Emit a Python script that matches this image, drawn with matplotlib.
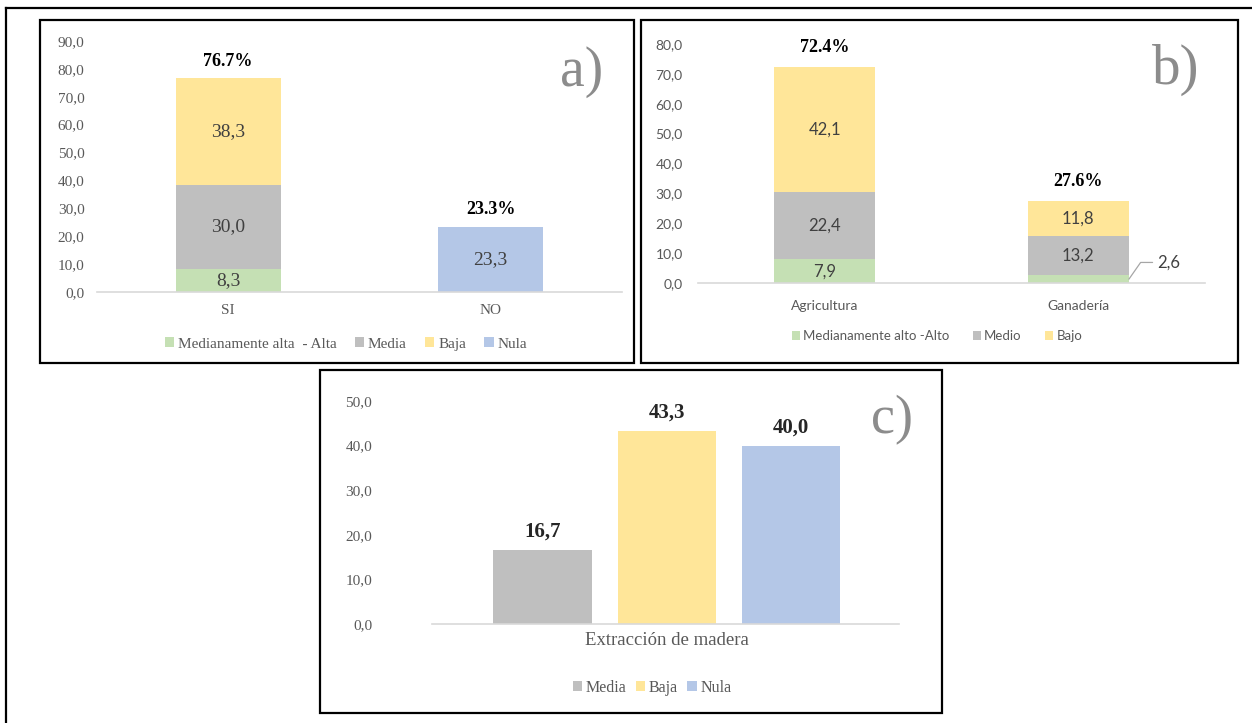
import matplotlib.pyplot as plt
import numpy as np
from matplotlib.patches import Rectangle
from matplotlib.lines import Line2D
from matplotlib.font_manager import FontProperties

# Panel a) data
a_cats = ['SI', 'NO']
a_alta = [8.3, 0.0]
a_media = [30.0, 0.0]
a_baja = [38.3, 0.0]
a_nula = [0.0, 23.3]
a_totals = ['76.7%', '23.3%']

# Panel b) data
b_cats = ['Agricultura', 'Ganadería']
b_alto = [7.9, 2.6]
b_medio = [22.4, 13.2]
b_bajo = [42.1, 11.8]
b_totals = ['72.4%', '27.6%']

# Panel c) data
c_cat = 'Extracción de madera'
c_series = ['Media', 'Baja', 'Nula']
c_values = [16.7, 43.3, 40.0]

GREEN = '#C5E0B4'
GRAY = '#BFBFBF'
YELLOW = '#FFE699'
BLUE = '#B4C7E7'
TXT = '#404040'
TICK = '#595959'

SERIF = 'Liberation Serif'
SANS = 'Lato'

W, H = 1252, 723
fig = plt.figure(figsize=(W / 100, H / 100), dpi=100)


def px_axes(x0, x1, y_top, y_bot):
    return fig.add_axes([x0 / W, 1 - y_bot / H, (x1 - x0) / W, (y_bot - y_top) / H])


def px_box(x0, x1, y0, y1, lw=1.6):
    fig.add_artist(Rectangle((x0 / W, 1 - y1 / H), (x1 - x0) / W, (y1 - y0) / H,
                             transform=fig.transFigure, fill=False, ec='black', lw=lw))


def style_axes(ax, font, size):
    for s in ['top', 'right', 'left']:
        ax.spines[s].set_visible(False)
    ax.spines['bottom'].set_color('#D9D9D9')
    ax.spines['bottom'].set_linewidth(1.2)
    ax.tick_params(axis='both', length=0, colors=TICK, labelfontfamily=font, labelsize=size)
    ax.set_facecolor('none')


def seg_label(ax, x, bottom, h, font, size):
    if h > 0:
        ax.text(x, bottom + h / 2, f'{h:.1f}'.replace('.', ','), ha='center', va='center',
                fontsize=size, family=font, color=TXT)


# outer frame (top and left only)
fig.add_artist(Line2D([6 / W, 1], [1 - 8 / H, 1 - 8 / H], transform=fig.transFigure, color='black', lw=1.6))
fig.add_artist(Line2D([6 / W, 6 / W], [1 - 8 / H, 0], transform=fig.transFigure, color='black', lw=1.6))

# panel boxes
px_box(40, 634, 20, 363)
px_box(641, 1238, 20, 363)
px_box(320, 942, 370, 713)

# ---------- a) ----------
ax = px_axes(97, 622, 41, 292)
xa = np.arange(len(a_cats))
bw = 0.4
bottom = np.zeros(len(a_cats))
handles = []
for vals, col, name in [(a_alta, GREEN, 'Medianamente alta  - Alta'), (a_media, GRAY, 'Media'),
                        (a_baja, YELLOW, 'Baja'), (a_nula, BLUE, 'Nula')]:
    h = ax.bar(xa, vals, bw, bottom=bottom, color=col, label=name)
    handles.append(h)
    for i, v in enumerate(vals):
        seg_label(ax, xa[i], bottom[i], v, SERIF, 14)
    bottom += np.array(vals)
for i, t in enumerate(a_totals):
    ax.annotate(t, (xa[i], bottom[i]), xytext=(0, 12.5), textcoords='offset points',
                ha='center', va='center', fontsize=13, family=SERIF, fontweight='bold', color='black')
ax.set_xlim(-0.5, 1.5)
ax.set_ylim(0, 90)
ax.set_yticks(np.arange(0, 91, 10))
ax.set_yticklabels([f'{v:.1f}'.replace('.', ',') for v in np.arange(0, 91, 10)])
ax.set_xticks(xa)
ax.set_xticklabels(a_cats)
style_axes(ax, SERIF, 11)
ax.tick_params(axis='x', pad=9)
ax.tick_params(axis='y', pad=9)
ax.text(0.965, 0.98, 'a)', transform=ax.transAxes, ha='right', va='top', fontsize=40,
        family=SERIF, color='#8C8C8C')
fig.legend(handles=handles, loc='center', bbox_to_anchor=(346 / W, 1 - 344 / H), ncol=4,
           frameon=False, prop=FontProperties(family=SERIF, size=11), handlelength=0.6,
           handleheight=0.6, handletextpad=0.25, columnspacing=1.2, labelcolor=TICK)

# ---------- b) ----------
ax = px_axes(698, 1205, 44, 283)
xb = np.arange(len(b_cats))
bottom = np.zeros(len(b_cats))
handles = []
for vals, col, name in [(b_alto, GREEN, 'Medianamente alto -Alto'), (b_medio, GRAY, 'Medio'),
                        (b_bajo, YELLOW, 'Bajo')]:
    h = ax.bar(xb, vals, bw, bottom=bottom, color=col, label=name)
    handles.append(h)
    for i, v in enumerate(vals):
        if v >= 5:
            seg_label(ax, xb[i], bottom[i], v, SANS, 12)
    bottom += np.array(vals)
# small value with leader line
ax.annotate(f'{b_alto[1]:.1f}'.replace('.', ','), (xb[1] + bw / 2, b_alto[1] / 2),
            xytext=(20, 12), textcoords='offset points', ha='left', va='center',
            fontsize=12, family=SANS, color=TXT,
            arrowprops=dict(arrowstyle='-', color='#A6A6A6', lw=0.9, shrinkA=1, shrinkB=0,
                            connectionstyle='angle,angleA=0,angleB=55,rad=0'))
for i, t in enumerate(b_totals):
    ax.annotate(t, (xb[i], bottom[i]), xytext=(0, 14), textcoords='offset points',
                ha='center', va='center', fontsize=13, family=SERIF, fontweight='bold', color='black')
ax.set_xlim(-0.5, 1.5)
ax.set_ylim(0, 80)
ax.set_yticks(np.arange(0, 81, 10))
ax.set_yticklabels([f'{v:.1f}'.replace('.', ',') for v in np.arange(0, 81, 10)])
ax.set_xticks(xb)
ax.set_xticklabels(b_cats)
style_axes(ax, SANS, 10)
ax.tick_params(axis='x', pad=12)
ax.tick_params(axis='y', pad=11)
ax.text(0.99, 1.0, 'b)', transform=ax.transAxes, ha='right', va='top', fontsize=41,
        family=SERIF, color='#8C8C8C')
fig.legend(handles=handles, loc='center', bbox_to_anchor=(937 / W, 1 - 336 / H), ncol=3,
           frameon=False, prop=FontProperties(family=SANS, size=9.5), handlelength=0.6,
           handleheight=0.6, handletextpad=0.25, columnspacing=1.8, labelcolor=TICK)

# ---------- c) ----------
ax = px_axes(432, 899, 401, 624)
xc = np.arange(len(c_values)) - 1
handles = []
for i, (name, v, col) in enumerate(zip(c_series, c_values, [GRAY, YELLOW, BLUE])):
    h = ax.bar(xc[i], v, 0.79, color=col, label=name)
    handles.append(h)
    ax.annotate(f'{v:.1f}'.replace('.', ','), (xc[i], v), xytext=(0, 13), textcoords='offset points',
                ha='center', va='center', fontsize=15, family=SERIF, fontweight='bold', color='#262626')
ax.set_xlim(-1.89, 1.87)
ax.set_ylim(0, 50)
ax.set_yticks(np.arange(0, 51, 10))
ax.set_yticklabels([f'{v:.1f}'.replace('.', ',') for v in np.arange(0, 51, 10)])
ax.set_xticks([0])
ax.set_xticklabels([c_cat])
style_axes(ax, SERIF, 11)
ax.tick_params(axis='x', pad=6, labelsize=13.5)
ax.tick_params(axis='y', pad=43)
ax.text(1.03, 1.03, 'c)', transform=ax.transAxes, ha='right', va='top', fontsize=39,
        family=SERIF, color='#8C8C8C')
fig.legend(handles=handles, loc='center', bbox_to_anchor=(652 / W, 1 - 688 / H), ncol=3,
           frameon=False, prop=FontProperties(family=SERIF, size=11.5), handlelength=0.6,
           handleheight=0.6, handletextpad=0.2, columnspacing=0.6, labelcolor=TICK)

fig.savefig('out.png', dpi=100)
